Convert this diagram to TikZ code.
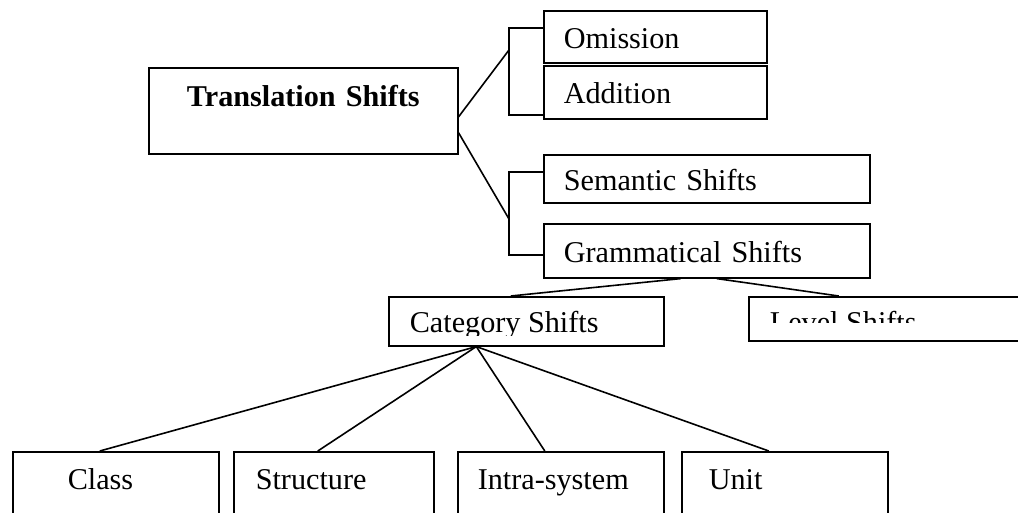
\documentclass[tikz,border=0pt]{standalone}
\usepackage{fontspec}
\setmainfont{Liberation Serif}
\tikzset{
  shiftbox/.style={draw, line width=0.8pt, anchor=north west, inner ysep=0pt, align=left},
  every node/.append style={font=\fontsize{15.1}{18}\selectfont},
}
\begin{document}
\begin{tikzpicture}[x=0.5pt,y=-0.5pt,line width=0.8pt]
      \clip (0,0) rectangle (1018,513);
      % top level
      \node[shiftbox, align=center, inner xsep=10pt, text width=134.5pt, text height=19.5pt, text depth=23.5pt, font=\fontsize{15.1}{18}\selectfont\bfseries] (trans) at (148,67) {Translation Shifts};
      \node[shiftbox, inner xsep=10pt, text width=91.5pt, text height=19pt, text depth=7pt] (omis) at (543,10) {Omission};
      \node[shiftbox, inner xsep=10pt, text width=91.5pt, text height=19pt, text depth=7.5pt] (addi) at (543,65) {Addition};
      \node[shiftbox, inner xsep=10pt, text width=143pt, text height=18pt, text depth=6pt] (sem) at (543,154) {Semantic Shifts};
      \node[shiftbox, inner xsep=10pt, text width=143pt, text height=19.5pt, text depth=7.5pt] (gram) at (543,223) {Grammatical Shifts};
      % brackets
      \coordinate (j1) at (509,50);
      \coordinate (j2) at (509,219);
      \coordinate (b1) at (509,28);
      \coordinate (b2) at (509,115);
      \coordinate (b3) at (509,172);
      \coordinate (b4) at (509,255);
      \draw (b1 -| omis.west) -- (b1) -- (b2) -- (b2 -| addi.west);
      \draw (b3 -| sem.west) -- (b3) -- (b4) -- (b4 -| gram.west);
      \draw ([yshift=-3pt]trans.east) -- (j1);
      \draw ([yshift=-11pt]trans.east) -- (j2);
      % second level
      \node[shiftbox, minimum width=137.5pt, minimum height=24.5pt] (cat) at (388,296) {};
      \node[shiftbox, minimum width=150pt, minimum height=22pt] (lev) at (748,296) {};
      \begin{scope}
        \clip (cat.north west) rectangle ([yshift=-20pt]cat.north east);
        \node[anchor=base west, inner sep=0pt] (cattext) at (409,333) {Category Shifts};
      \end{scope}
      \begin{scope}
        \clip (lev.north west) rectangle ([yshift=-13.5pt]lev.north east);
        \node[anchor=base west, inner sep=0pt] (levtext) at (769,333) {Level Shifts};
      \end{scope}
      \draw ([xshift=-13pt]gram.south) -- ([xshift=-7.75pt]cat.north);
      \draw ([xshift=5pt]gram.south) -- ([xshift=-30pt]lev.north);
      % bottom level
      \node[shiftbox, inner xsep=27.5pt, text width=48pt, text height=19pt, text depth=21pt] (class) at (12,451) {Class};
      \node[shiftbox, inner xsep=11pt, text width=78pt, text height=19pt, text depth=21pt] (struct) at (233,451) {Structure};
      \node[shiftbox, inner xsep=10pt, text width=83pt, text height=19pt, text depth=21pt] (intra) at (457,451) {Intra-system};
      \node[shiftbox, inner xsep=13.5pt, text width=76pt, text height=19pt, text depth=21pt] (unit) at (681,451) {Unit};
      \foreach \b in {class,struct,intra,unit} \draw ([xshift=-25pt]cat.south) -- ([xshift=-8pt]\b.north);
\end{tikzpicture}
\end{document}
